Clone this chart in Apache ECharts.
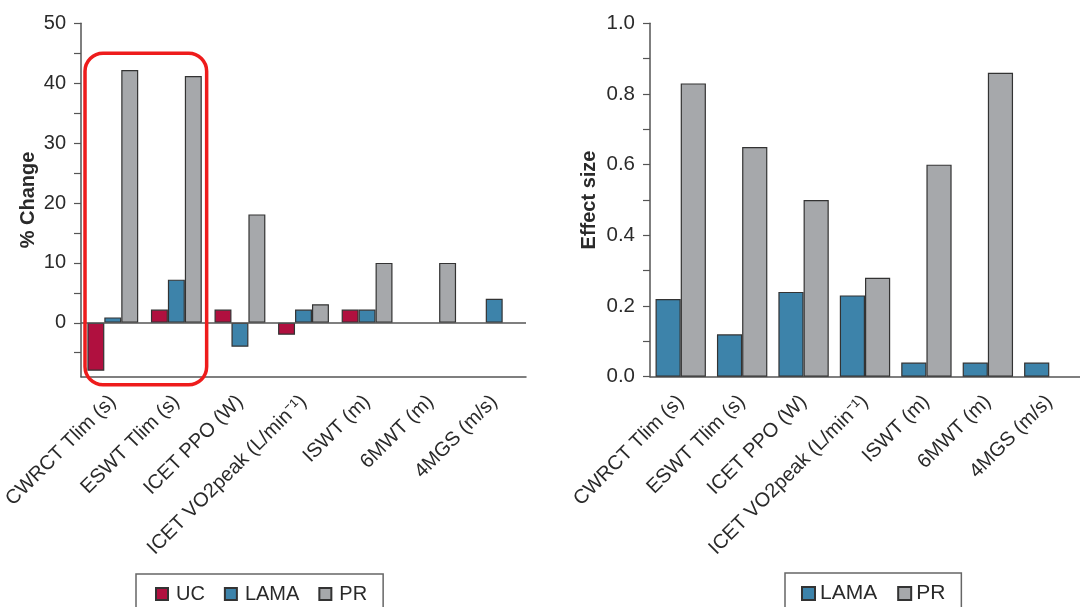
<!DOCTYPE html>
<html>
<head>
<meta charset="utf-8">
<script src="https://cdn.jsdelivr.net/npm/echarts@6/dist/echarts.min.js"></script>
<style>
  html, body { margin: 0; padding: 0; background: #fff; }
  #chart { width: 1080px; height: 607px; }
</style>
</head>
<body>
<div id="chart"></div>
<script>
// categories shared by both panels
var categories = ['CWRCT Tlim (s)', 'ESWT Tlim (s)', 'ICET PPO (W)', 'ICET VO2peak (L/min\u207B\u00B9)', 'ISWT (m)', '6MWT (m)', '4MGS (m/s)'];

// left panel: % change
var ucChange = [-8.0, 2.2, 2.2, -2.0, 2.2, null, null];
var lamaChange = [0.9, 7.2, -4.0, 2.2, 2.2, null, 4.0];
var prChange = [42.2, 41.2, 18.1, 3.1, 10.0, 10.0, null];
var changeLabels = [0, 10, 20, 30, 40, 50];
var changeTicks = [-5, 0, 5, 10, 15, 20, 25, 30, 35, 40, 45, 50];

// right panel: effect size
var lamaEffect = [0.22, 0.12, 0.24, 0.23, 0.04, 0.04, 0.04];
var prEffect = [0.83, 0.65, 0.50, 0.28, 0.60, 0.86, null];
var effectLabels = [0, 0.2, 0.4, 0.6, 0.8, 1.0];
var effectTicks = [0, 0.1, 0.2, 0.3, 0.4, 0.5, 0.6, 0.7, 0.8, 0.9, 1.0];

var ucColor = '#b0103f';
var lamaColor = '#3d83aa';
var prColor = '#a6a8ab';
var axisColor = '#555';
var textColor = '#2a2a2a';
var font = "'Liberation Sans', Arial, sans-serif";

var myChart = echarts.init(document.getElementById('chart'), null, { renderer: 'canvas' });

function nullToDash(arr) {
  return arr.map(function (v) { return v == null ? '-' : v; });
}

var barBorder = { borderColor: '#333', borderWidth: 1.2 };

function xAxisFor(gridIndex, size) {
  return {
    type: 'category',
    gridIndex: gridIndex,
    data: categories,
    axisLine: { onZero: false, lineStyle: { color: axisColor, width: 1.5 } },
    axisTick: { alignWithLabel: true, length: 8, lineStyle: { color: '#222', width: 1.5 } },
    axisLabel: { rotate: 45, margin: 22, fontSize: size, color: textColor, fontFamily: font, interval: 0 },
    splitLine: { show: false }
  };
}

function yAxisFor(gridIndex, min, max, labels, ticks, name, gap, size, digits) {
  return {
    type: 'value',
    gridIndex: gridIndex,
    min: min,
    max: max,
    name: name,
    nameLocation: 'middle',
    nameGap: gap,
    nameTextStyle: { fontSize: 20, fontWeight: 'bold', color: textColor, fontFamily: font },
    axisLine: { show: true, lineStyle: { color: axisColor, width: 1.5 } },
    axisTick: { show: true, length: 7, customValues: ticks, lineStyle: { color: axisColor, width: 1.2 } },
    axisLabel: {
      customValues: labels, margin: 15, fontSize: size, color: textColor, fontFamily: font,
      formatter: function (v) { return v.toFixed(digits); }
    },
    splitLine: { show: false }
  };
}

var option = {
  animation: false,
  backgroundColor: '#fff',
  grid: [
    { left: 80, top: 23.3, width: 446, height: 353.4 },
    { left: 650, top: 23.3, width: 444.5, height: 353.4 }
  ],
  xAxis: [xAxisFor(0, 20), xAxisFor(1, 20)],
  yAxis: [
    yAxisFor(0, -9, 50, changeLabels, changeTicks, '% Change', 43, 20, 0),
    yAxisFor(1, 0, 1, effectLabels, effectTicks, 'Effect size', 51, 20.5, 1)
  ],
  legend: [
    {
      left: 136, top: 574,
      data: ['UC', 'LAMA', 'PR'],
      orient: 'horizontal',
      icon: 'rect',
      itemWidth: 12, itemHeight: 12, itemGap: 19,
      padding: [10, 16, 10, 19],
      borderColor: '#666', borderWidth: 1.5,
      textStyle: { fontSize: 20, color: textColor, fontFamily: font, padding: [0, 0, 0, 3] },
      selectedMode: false
    },
    {
      left: 785, top: 573,
      data: ['LAMA', 'PR'],
      orient: 'horizontal',
      icon: 'rect',
      itemWidth: 13, itemHeight: 13, itemGap: 20,
      padding: [10, 16, 10, 16],
      borderColor: '#666', borderWidth: 1.5,
      textStyle: { fontSize: 21, color: textColor, fontFamily: font },
      selectedMode: false
    }
  ],
  series: [
    {
      name: 'UC', type: 'bar', xAxisIndex: 0, yAxisIndex: 0,
      data: nullToDash(ucChange),
      barGap: '0%', barCategoryGap: '20%',
      itemStyle: Object.assign({ color: ucColor }, barBorder),
      markLine: {
        silent: true, symbol: 'none', label: { show: false },
        lineStyle: { color: axisColor, width: 1.5, type: 'solid' },
        data: [{ yAxis: 0 }]
      }
    },
    {
      name: 'LAMA', type: 'bar', xAxisIndex: 0, yAxisIndex: 0,
      data: nullToDash(lamaChange),
      barGap: '0%', barCategoryGap: '20%',
      itemStyle: Object.assign({ color: lamaColor }, barBorder)
    },
    {
      name: 'PR', type: 'bar', xAxisIndex: 0, yAxisIndex: 0,
      data: nullToDash(prChange),
      barGap: '0%', barCategoryGap: '20%',
      itemStyle: Object.assign({ color: prColor }, barBorder)
    },
    {
      name: 'LAMA', type: 'bar', xAxisIndex: 1, yAxisIndex: 1,
      data: nullToDash(lamaEffect),
      barGap: '0%', barCategoryGap: '18%',
      itemStyle: Object.assign({ color: lamaColor }, barBorder)
    },
    {
      name: 'PR', type: 'bar', xAxisIndex: 1, yAxisIndex: 1,
      data: nullToDash(prEffect),
      barGap: '0%', barCategoryGap: '18%',
      itemStyle: Object.assign({ color: prColor }, barBorder)
    }
  ]
};

myChart.setOption(option);

// red rounded box around the first two categories of the left panel
var c0 = myChart.convertToPixel({ xAxisIndex: 0 }, 0);
var c1 = myChart.convertToPixel({ xAxisIndex: 0 }, 1);
var halfCat = (c1 - c0) / 2;
var yTop = myChart.convertToPixel({ yAxisIndex: 0 }, 45);
var yBottom = myChart.convertToPixel({ yAxisIndex: 0 }, -9) + 8;
var x0 = c0 - halfCat + 4;
var x1 = c1 + halfCat - 1.5;
myChart.setOption({
  graphic: [{
    type: 'rect',
    z: 100,
    shape: { x: x0, y: yTop, width: x1 - x0, height: yBottom - yTop, r: 18 },
    style: { fill: 'none', stroke: '#ee1c1c', lineWidth: 3.5 }
  }]
});

window.addEventListener('resize', function () {
  myChart.resize();
});
</script>
</body>
</html>
